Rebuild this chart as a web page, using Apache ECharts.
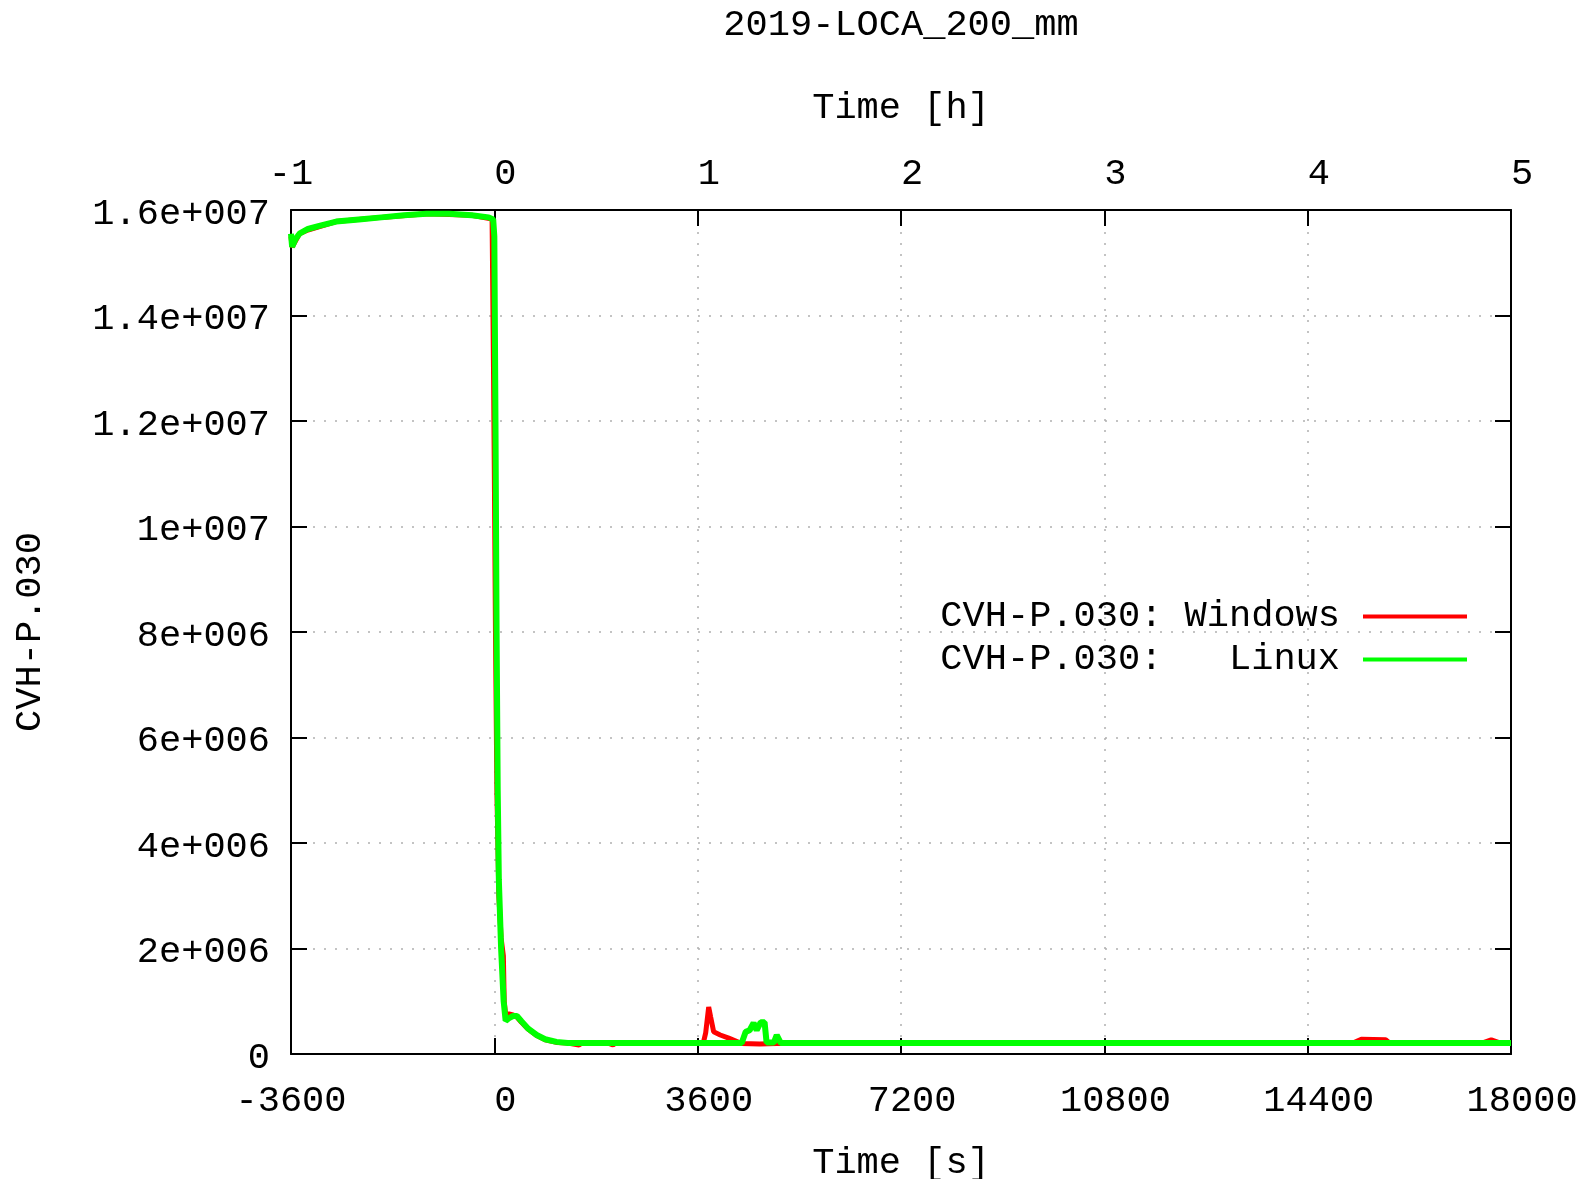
<!DOCTYPE html>
<html>
<head>
<meta charset="utf-8">
<title>2019-LOCA_200_mm</title>
<script src="https://cdn.jsdelivr.net/npm/echarts@6/dist/echarts.min.js"></script>
<style>
  html, body { margin: 0; padding: 0; background: #fff; }
  #chart { width: 1585px; height: 1179px; }
</style>
</head>
<body>
<div id="chart"></div>
<script>
// values are in units of 1e6
var winTime = [-3600, -3580, -3450, -3300, -2800, -2000, -1200, -400, -40, -15, 0, 20, 45, 80, 120, 160, 175, 200, 260, 330, 400, 480, 600, 750, 900, 1100, 1300, 1500, 1550, 2000, 2100, 2150, 3000, 3700, 3742, 3795, 3830, 3883, 4000, 4150, 4380, 4700, 5000, 8000, 15200, 15350, 15780, 15850, 17500, 17650, 17800, 18000];
var winVal = [15.5, 15.3, 15.55, 15.62, 15.78, 15.86, 15.93, 15.9, 15.83, 13.0, 11.0, 8.0, 5.0, 3.0, 2.2, 1.86, 1.0, 0.75, 0.76, 0.74, 0.7, 0.6, 0.47, 0.35, 0.27, 0.22, 0.21, 0.17, 0.21, 0.21, 0.17, 0.21, 0.21, 0.21, 0.4, 0.89, 0.7, 0.42, 0.36, 0.3, 0.2, 0.19, 0.2, 0.21, 0.21, 0.28, 0.27, 0.21, 0.21, 0.27, 0.21, 0.21];

var linTime = [-3600, -3580, -3520, -3450, -3300, -3100, -2800, -2400, -2000, -1600, -1200, -800, -400, -100, -20, 0, 20, 40, 60, 80, 120, 165, 200, 260, 330, 400, 480, 600, 750, 900, 1100, 1300, 2000, 3000, 3600, 4000, 4380, 4450, 4520, 4590, 4645, 4715, 4785, 4820, 4950, 5000, 5070, 6000, 8000, 10000, 12000, 14000, 16000, 18000];
var linVal = [15.55, 15.3, 15.45, 15.55, 15.64, 15.7, 15.78, 15.82, 15.86, 15.9, 15.93, 15.93, 15.9, 15.86, 15.82, 15.5, 12.0, 8.0, 5.0, 3.3, 2.0, 1.0, 0.63, 0.68, 0.72, 0.72, 0.62, 0.48, 0.36, 0.28, 0.23, 0.21, 0.21, 0.21, 0.21, 0.21, 0.21, 0.42, 0.45, 0.59, 0.45, 0.6, 0.6, 0.22, 0.22, 0.36, 0.21, 0.21, 0.21, 0.21, 0.21, 0.21, 0.21, 0.21];

var yTickLabels = ['0', '2e+006', '4e+006', '6e+006', '8e+006', '1e+007', '1.2e+007', '1.4e+007', '1.6e+007'];
var names = ['CVH-P.030: Windows', 'CVH-P.030:   Linux'];

function pairs(ts, vs) {
    return ts.map(function (t, i) { return [t, vs[i] * 1e6]; });
}

// gnuplot draws non-negative tick labels a bit right of the tick
function xLabel(v) {
    return v < 0 ? String(v) : ' ' + v;
}

var FONT = 'Liberation Mono';
var txt = { fontFamily: FONT, fontSize: 37, color: '#000' };
var dotted = { color: '#b0b0b0', width: 1.5, type: [2, 9] };
var border = { show: true, onZero: false, lineStyle: { color: '#000', width: 2 } };
var ticks = { show: true, inside: true, length: 16, lineStyle: { color: '#000', width: 2 } };

var myChart = echarts.init(document.getElementById('chart'));
var option = {
    animation: false,
    backgroundColor: '#fff',
    title: {
        text: '2019-LOCA_200_mm',
        left: 896,
        top: 2,
        textAlign: 'center',
        textStyle: { fontFamily: FONT, fontSize: 37, fontWeight: 'normal', color: '#000' }
    },
    grid: { left: 291, right: 74, top: 210, bottom: 125, outerBoundsMode: 'none' },
    legend: {
        orient: 'vertical',
        right: 113,
        top: 593,
        align: 'right',
        itemWidth: 104,
        itemHeight: 4,
        itemGap: 6,
        icon: 'rect',
        textStyle: { fontFamily: FONT, fontSize: 37, color: '#000', lineHeight: 36, padding: [0, 18, 0, 0] },
        data: [
            { name: names[0], itemStyle: { color: '#ff0000' } },
            { name: names[1], itemStyle: { color: '#00ff00' } }
        ]
    },
    xAxis: [
        {
            type: 'value',
            min: -3600, max: 18000, interval: 3600,
            name: 'Time [s]',
            nameLocation: 'middle',
            nameGap: 91,
            nameTextStyle: txt,
            axisLine: border,
            axisTick: ticks,
            axisLabel: Object.assign({ margin: 29, formatter: xLabel }, txt),
            splitLine: { show: true, lineStyle: dotted }
        },
        {
            type: 'value',
            position: 'top',
            min: -1, max: 5, interval: 1,
            name: 'Time [h]',
            nameLocation: 'middle',
            nameGap: 83,
            nameTextStyle: txt,
            axisLine: border,
            axisTick: ticks,
            axisLabel: Object.assign({ margin: 17, formatter: xLabel }, txt),
            splitLine: { show: false }
        }
    ],
    yAxis: [
        {
            type: 'value',
            min: 0, max: 16000000, interval: 2000000,
            name: 'CVH-P.030',
            nameLocation: 'middle',
            nameGap: 242,
            nameTextStyle: txt,
            axisLine: border,
            axisTick: ticks,
            axisLabel: Object.assign({
                margin: 21,
                formatter: function (v) { return '{a|' + yTickLabels[Math.round(v / 2000000)] + '}'; },
                rich: { a: { fontFamily: FONT, fontSize: 37, color: '#000', padding: [8, 0, 0, 0] } }
            }, txt),
            splitLine: { show: true, lineStyle: dotted }
        },
        {
            type: 'value',
            position: 'right',
            min: 0, max: 16000000, interval: 2000000,
            axisLine: border,
            axisTick: ticks,
            axisLabel: { show: false },
            splitLine: { show: false }
        }
    ],
    series: [
        {
            name: names[0],
            type: 'line',
            showSymbol: false,
            symbol: 'none',
            color: '#ff0000',
            lineStyle: { color: '#ff0000', width: 5 },
            data: pairs(winTime, winVal),
            z: 2
        },
        {
            name: names[1],
            type: 'line',
            showSymbol: false,
            symbol: 'none',
            color: '#00ff00',
            lineStyle: { color: '#00ff00', width: 6 },
            data: pairs(linTime, linVal),
            z: 3
        }
    ]
};
myChart.setOption(option);
</script>
</body>
</html>
